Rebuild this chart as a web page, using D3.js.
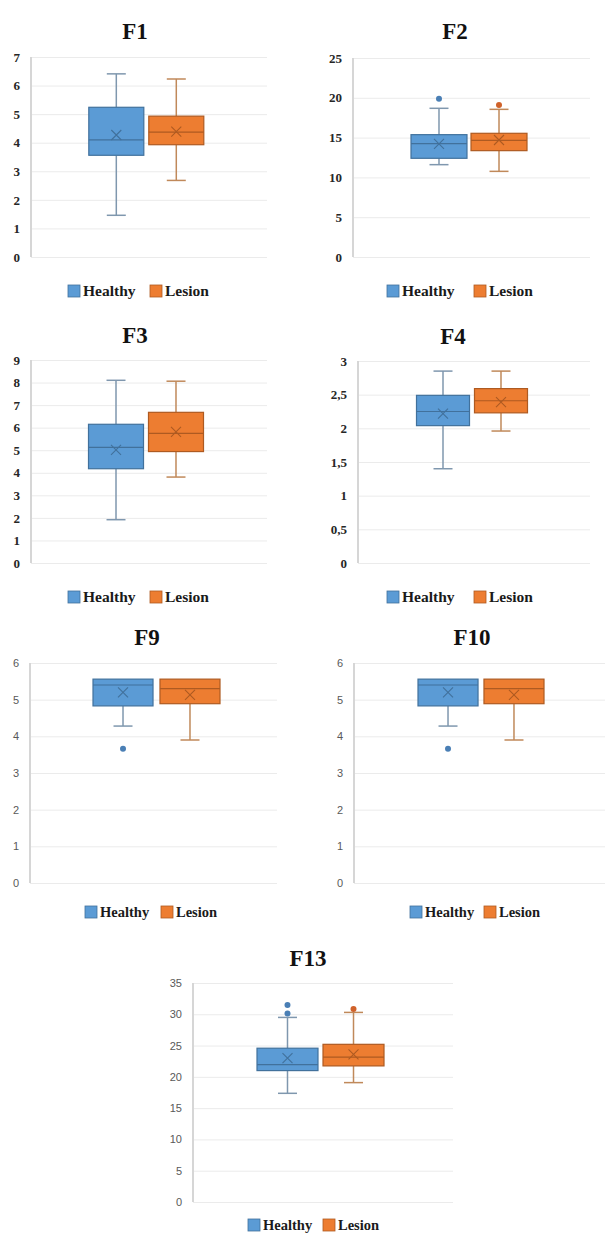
<!DOCTYPE html>
<html><head><meta charset="utf-8">
<script src="https://cdn.jsdelivr.net/npm/d3@7"></script>
<style>
html,body{margin:0;padding:0;background:#fff;}
svg{display:block;}
</style></head>
<body>
<svg id="chart" width="605" height="1236"></svg>
<script>
// ---- DATA ----
const panelNames = ["F1","F2","F3","F4","F9","F10","F13"];
const groups = ["Healthy","Lesion"];
const yMax  = [7, 25, 9, 3, 6, 6, 35];
const yStep = [1, 5, 1, 0.5, 1, 1, 5];

const healthyMin    = [1.46, 11.6, 1.92, 1.40, 4.28, 4.28, 17.37];
const healthyQ1     = [3.56, 12.40, 4.18, 2.04, 4.83, 4.83, 21.0];
const healthyMedian = [4.10, 14.24, 5.13, 2.25, 5.40, 5.40, 21.97];
const healthyQ3     = [5.24, 15.37, 6.15, 2.49, 5.56, 5.56, 24.58];
const healthyMax    = [6.41, 18.68, 8.10, 2.85, 5.56, 5.56, 29.5];
const healthyMean   = [4.27, 14.2, 5.02, 2.22, 5.20, 5.20, 23.0];
const healthyOutliers = [[], [19.89], [], [], [3.66], [3.66], [31.48, 30.14]];

const lesionMin    = [2.68, 10.76, 3.81, 1.96, 3.90, 3.90, 19.08];
const lesionQ1     = [3.93, 13.36, 4.94, 2.23, 4.89, 4.89, 21.75];
const lesionMedian = [4.37, 14.66, 5.75, 2.41, 5.30, 5.30, 23.14];
const lesionQ3     = [4.93, 15.54, 6.68, 2.59, 5.56, 5.56, 25.2];
const lesionMax    = [6.23, 18.55, 8.06, 2.85, 5.56, 5.56, 30.3];
const lesionMean   = [4.39, 14.7, 5.81, 2.39, 5.13, 5.13, 23.6];
const lesionOutliers = [[], [19.1], [], [], [], [], [30.84]];

// ---- LAYOUT (positions / styles) ----
const layout = [
  {left:31,  right:267, top:57,  bottom:257,  cx:146.3, half:57.5, pad:0.083, titleX:135, titleY:39,   legY:285,  legX:[68,150],  serif:true},
  {left:353, right:590, top:58,  bottom:257,  cx:469,   half:58,   pad:0.067, titleX:455, titleY:39,   legY:285,  legX:[387,474], serif:true},
  {left:31,  right:267, top:360, bottom:563,  cx:146,   half:57.5, pad:0.083, titleX:135, titleY:343,  legY:591,  legX:[68,150],  serif:true},
  {left:358, right:590, top:361, bottom:563,  cx:472,   half:55.5, pad:0.086, titleX:453, titleY:344,  legY:591,  legX:[387,474], serif:true},
  {left:30,  right:277, top:663, bottom:883,  cx:156.5, half:63.5, pad:0.104, titleX:147, titleY:645,  legY:906,  legX:[85,161],  serif:false},
  {left:354, right:605, top:663, bottom:883,  cx:481,   half:63,   pad:0.09,  titleX:472, titleY:645,  legY:906,  legX:[410,484], serif:false},
  {left:193, right:453, top:983, bottom:1202, cx:320.5, half:63.5, pad:0.076, titleX:308, titleY:966,  legY:1219, legX:[248,323], serif:false}
];

const fills   = {Healthy:"#5b9bd5", Lesion:"#ed7d31"};
const borders = {Healthy:"#41719c", Lesion:"#ae5a21"};
const dots    = {Healthy:"#4a7fb5", Lesion:"#d0622a"};
const whiskerCol = {Healthy:"#7f97ae", Lesion:"#c0895a"};
const serifFont = "'Liberation Serif','Times New Roman',serif";
const sansFont  = "'Liberation Sans','DejaVu Sans',sans-serif";

const svg = d3.select("#chart");

panelNames.forEach((name, i) => {
  const L = layout[i];
  const g = svg.append("g");
  const y = d3.scaleLinear().domain([0, yMax[i]]).range([L.bottom, L.top]);
  const x = d3.scaleBand().domain(groups).range([L.cx - L.half, L.cx + L.half]).paddingInner(L.pad).paddingOuter(0);
  const ticks = d3.range(0, yMax[i] + yStep[i] / 2, yStep[i]);
  const fmt = v => (yStep[i] < 1 ? d3.format("")(v).replace(".", ",") : d3.format("d")(v));

  // gridlines
  const grid = g.append("g").attr("transform", `translate(${L.left},0)`)
    .call(d3.axisLeft(y).tickValues(ticks).tickSize(-(L.right - L.left)).tickFormat(""));
  grid.select(".domain").remove();
  grid.selectAll("line").attr("stroke", "#ebebeb").attr("stroke-width", 1);

  // axis labels
  const ax = g.append("g").attr("transform", `translate(${L.left - 8},0)`)
    .call(d3.axisLeft(y).tickValues(ticks).tickSize(0).tickPadding(3).tickFormat(fmt));
  ax.select(".domain").remove();
  ax.selectAll("text")
    .attr("font-family", L.serif ? serifFont : sansFont)
    .attr("font-weight", L.serif ? "bold" : "normal")
    .attr("font-size", L.serif ? 13 : 11)
    .attr("fill", L.serif ? "#262626" : "#595959");

  // vertical axis line
  g.append("line").attr("x1", L.left).attr("x2", L.left)
    .attr("y1", y(yMax[i])).attr("y2", y(0))
    .attr("stroke", "#d6d6d6").attr("stroke-width", 2);

  // title
  g.append("text").attr("x", L.titleX).attr("y", L.titleY)
    .attr("text-anchor", "middle").attr("font-family", serifFont)
    .attr("font-weight", "bold").attr("font-size", 23).attr("fill", "#111")
    .text(name);

  const stats = [
    {grp:"Healthy", min:healthyMin[i], q1:healthyQ1[i], med:healthyMedian[i], q3:healthyQ3[i], max:healthyMax[i], mean:healthyMean[i], out:healthyOutliers[i]},
    {grp:"Lesion",  min:lesionMin[i],  q1:lesionQ1[i],  med:lesionMedian[i],  q3:lesionQ3[i],  max:lesionMax[i],  mean:lesionMean[i],  out:lesionOutliers[i]}
  ];

  stats.forEach(s => {
    const x0 = x(s.grp), bw = x.bandwidth(), xc = x0 + bw / 2;
    const capW = 9.5;
    const wc = whiskerCol[s.grp];
    if (s.max > s.q3) {
      g.append("line").attr("x1", xc).attr("x2", xc).attr("y1", y(s.q3)).attr("y2", y(s.max)).attr("stroke", wc).attr("stroke-width", 1.5);
      g.append("line").attr("x1", xc - capW).attr("x2", xc + capW).attr("y1", y(s.max)).attr("y2", y(s.max)).attr("stroke", wc).attr("stroke-width", 1.5);
    }
    if (s.min < s.q1) {
      g.append("line").attr("x1", xc).attr("x2", xc).attr("y1", y(s.q1)).attr("y2", y(s.min)).attr("stroke", wc).attr("stroke-width", 1.5);
      g.append("line").attr("x1", xc - capW).attr("x2", xc + capW).attr("y1", y(s.min)).attr("y2", y(s.min)).attr("stroke", wc).attr("stroke-width", 1.5);
    }
    g.append("rect").attr("x", x0).attr("y", y(s.q3)).attr("width", bw).attr("height", y(s.q1) - y(s.q3))
      .attr("fill", fills[s.grp]).attr("stroke", borders[s.grp]).attr("stroke-width", 1.2);
    g.append("line").attr("x1", x0).attr("x2", x0 + bw).attr("y1", y(s.med)).attr("y2", y(s.med))
      .attr("stroke", borders[s.grp]).attr("stroke-width", 1.2);
    const m = 5, my = y(s.mean);
    g.append("path").attr("d", `M${xc - m},${my - m}L${xc + m},${my + m}M${xc - m},${my + m}L${xc + m},${my - m}`)
      .attr("stroke", borders[s.grp]).attr("stroke-width", 1.1).attr("fill", "none");
    s.out.forEach(o => {
      g.append("circle").attr("cx", xc).attr("cy", y(o)).attr("r", 3).attr("fill", dots[s.grp]);
    });
  });

  // legend
  groups.forEach((grp, k) => {
    const lx = L.legX[k];
    g.append("rect").attr("x", lx).attr("y", L.legY).attr("width", 12).attr("height", 12)
      .attr("fill", fills[grp]).attr("stroke", borders[grp]).attr("stroke-width", 0.8);
    g.append("text").attr("x", lx + 15).attr("y", L.legY + 11)
      .attr("font-family", serifFont).attr("font-weight", "bold")
      .attr("font-size", L.serif ? 15.5 : 14.5).attr("fill", "#1a1a1a").text(grp);
  });
});
</script>
</body></html>
